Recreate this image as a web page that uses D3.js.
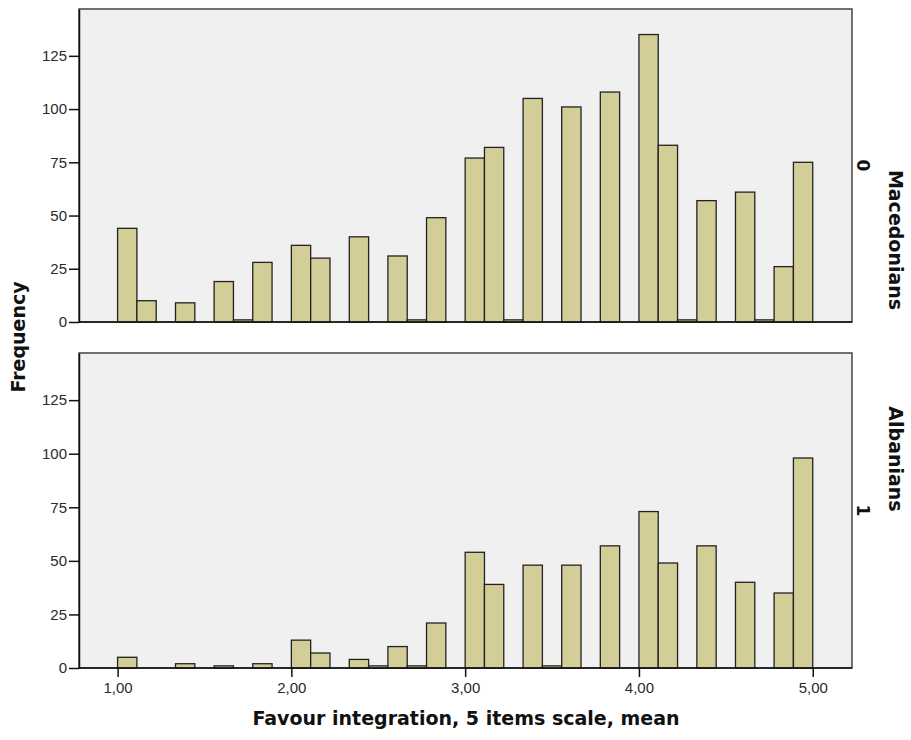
<!DOCTYPE html>
<html>
<head>
<meta charset="utf-8">
<script src="https://cdn.jsdelivr.net/npm/d3@7.9.0/dist/d3.min.js"></script>
<style>
  body { margin: 0; background: #fff; }
  text { font-family: "Liberation Sans", Arial, sans-serif; }
  .tick text { fill: #2a2a2a; font-size: 15px; }
  .title { font-family: "DejaVu Sans", sans-serif; font-weight: bold; fill: #111; }
</style>
</head>
<body>
<svg id="chart" width="911" height="740"></svg>
<script>
// histogram bins: lower edge of first bin and bin width
const binStart = 1;
const binWidth = 1 / 9;

const groups = ["Macedonians", "Albanians"];
const groupCodes = ["0", "1"];

// counts per bin (36 bins from 1,00 to 5,00)
const macedonians = [44, 10, 0, 9, 0, 19, 1, 28, 0, 36, 30, 0, 40, 0, 31, 1, 49, 0,
                     77, 82, 1, 105, 0, 101, 0, 108, 0, 135, 83, 1, 57, 0, 61, 1, 26, 75];
const albanians = [5, 0, 0, 2, 0, 1, 0, 2, 0, 13, 7, 0, 4, 1, 10, 1, 21, 0,
                   54, 39, 0, 48, 1, 48, 0, 57, 0, 73, 49, 0, 57, 0, 40, 0, 35, 98];

const xTicks = [1, 2, 3, 4, 5];
const yTicks = [0, 25, 50, 75, 100, 125];

const series = [macedonians, albanians];

const svg = d3.select("#chart");
const left = 79, right = 852;
const panels = [
  { top: 9, bottom: 322 },
  { top: 353, bottom: 668 }
];

const x = d3.scaleLinear().domain([0.778, 5.226]).range([left, right]);
const locale = d3.formatLocale({ decimal: ",", thousands: ".", grouping: [3], currency: ["", ""] });
const fmt = locale.format(".2f");

panels.forEach((p, pi) => {
  const y = d3.scaleLinear().domain([0, 147]).range([p.bottom, p.top]);
  const g = svg.append("g");

  g.append("rect")
    .attr("x", left).attr("y", p.top)
    .attr("width", right - left).attr("height", p.bottom - p.top)
    .attr("fill", "#f0f0f0")
    .attr("stroke", "#444").attr("stroke-width", 1.5);

  const counts = series[pi];
  const bars = counts.map((c, i) => ({ c, i })).filter(d => d.c > 0);
  g.selectAll("rect.bar")
    .data(bars)
    .join("rect")
    .attr("class", "bar")
    .attr("x", d => x(binStart + d.i * binWidth))
    .attr("width", d => x(binStart + (d.i + 1) * binWidth) - x(binStart + d.i * binWidth))
    .attr("y", d => y(d.c))
    .attr("height", d => y(0) - y(d.c))
    .attr("fill", "#d3ce97")
    .attr("stroke", "#222")
    .attr("stroke-width", 1.3);

  const yAxis = d3.axisLeft(y).tickValues(yTicks).tickSize(10).tickSizeOuter(0).tickPadding(2);
  const ya = g.append("g").attr("transform", `translate(${left},0)`).call(yAxis);
  ya.select(".domain").attr("stroke", "#111").attr("stroke-width", 1.5);
  ya.selectAll(".tick line").attr("stroke", "#111").attr("stroke-width", 1.5);

  // baseline
  g.append("line")
    .attr("x1", left).attr("x2", right)
    .attr("y1", y(0)).attr("y2", y(0))
    .attr("stroke", "#111").attr("stroke-width", 1.5);

  if (pi === panels.length - 1) {
    const xAxis = d3.axisBottom(x).tickValues(xTicks).tickFormat(fmt).tickSize(9).tickSizeOuter(0).tickPadding(5);
    const xa = g.append("g").attr("transform", `translate(0,${p.bottom})`).call(xAxis);
    xa.select(".domain").remove();
    xa.selectAll(".tick line").attr("stroke", "#111").attr("stroke-width", 1.5);
  }

  const cy = (p.top + p.bottom) / 2;
  svg.append("text")
    .attr("class", "title")
    .attr("transform", `translate(863,${cy}) rotate(90)`)
    .attr("text-anchor", "middle")
    .attr("dy", "0.35em")
    .style("font-size", "17px")
    .text(groupCodes[pi]);
});

svg.append("text")
  .attr("class", "title")
  .attr("transform", "translate(896,240) rotate(90)")
  .attr("text-anchor", "middle").attr("dy", "0.35em")
  .style("font-size", "19px")
  .text(groups[0]);

svg.append("text")
  .attr("class", "title")
  .attr("transform", "translate(896,459) rotate(90)")
  .attr("text-anchor", "middle").attr("dy", "0.35em")
  .style("font-size", "19px")
  .text(groups[1]);

svg.append("text")
  .attr("class", "title")
  .attr("transform", "translate(18,337) rotate(-90)")
  .attr("text-anchor", "middle").attr("dy", "0.35em")
  .style("font-size", "19px")
  .text("Frequency");

svg.append("text")
  .attr("class", "title")
  .attr("x", 466).attr("y", 725)
  .attr("text-anchor", "middle")
  .style("font-size", "19px")
  .text("Favour integration, 5 items scale, mean");
</script>
</body>
</html>
